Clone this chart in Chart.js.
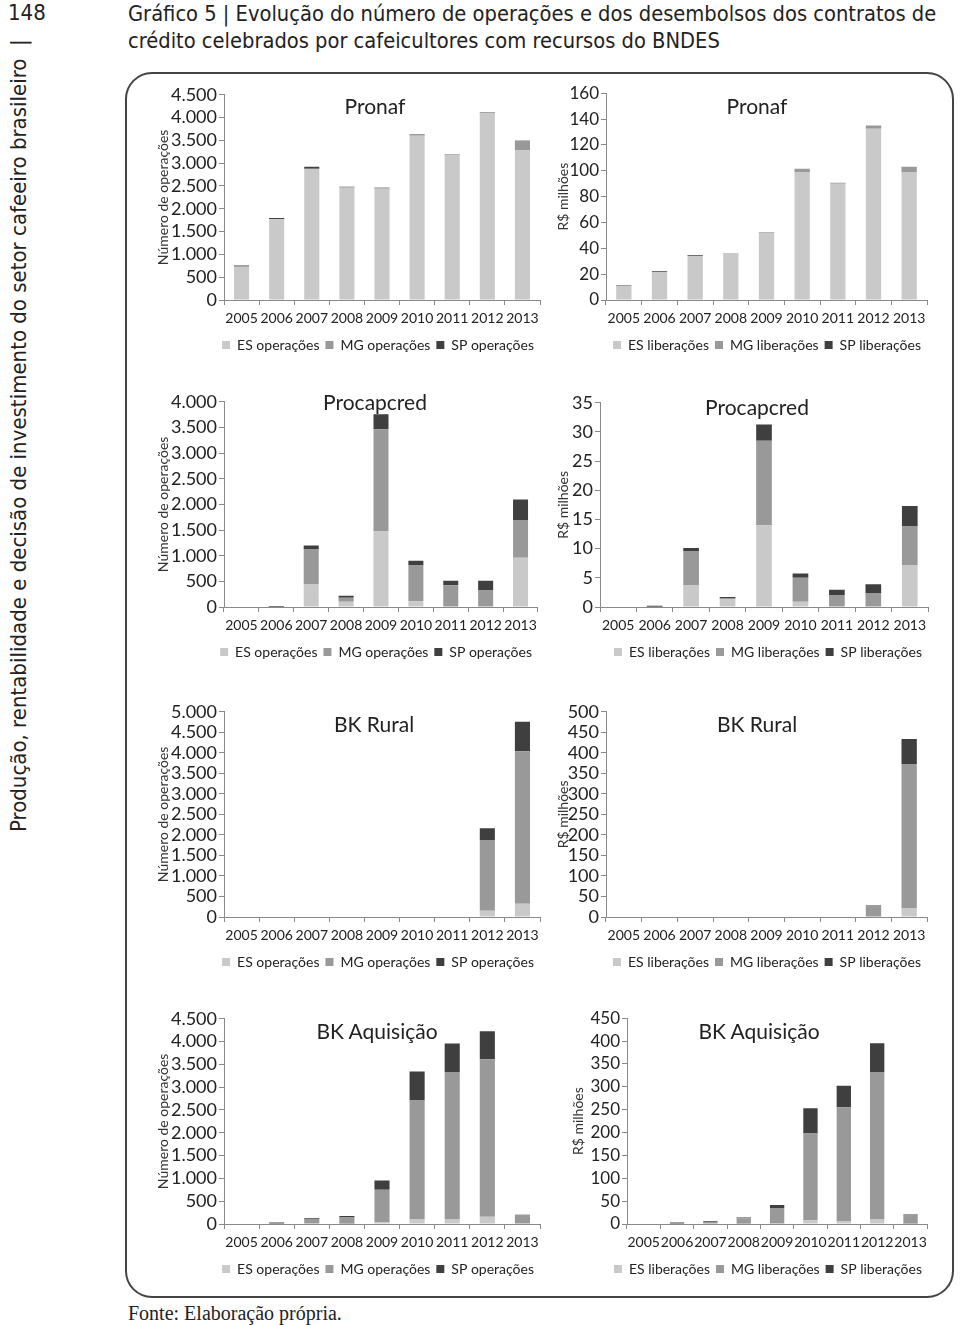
<!DOCTYPE html>
<html>
<head>
<meta charset="utf-8">
<script src="https://cdn.jsdelivr.net/npm/chart.js@4.4.1/dist/chart.umd.min.js"></script>
<style>
html,body{margin:0;padding:0;background:#fff;}
body{width:960px;height:1325px;position:relative;overflow:hidden;font-family:Lato,sans-serif;color:#222;}
.abs{position:absolute;}
.narrow{font-family:"Liberation Sans Narrow","DejaVu Sans Condensed",sans-serif;}
#pagenum{left:8px;top:0px;font-size:22px;line-height:26px;}
#side{left:7px;top:832px;transform:rotate(-90deg);transform-origin:0 0;white-space:nowrap;font-size:22px;line-height:24px;}
#title{left:128px;top:0px;font-size:21.7px;line-height:27px;white-space:nowrap;}
#frame{left:125px;top:72px;width:829px;height:1226px;border:2px solid #444;border-radius:27px;box-sizing:border-box;}
.ctitle{font-family:Lato,sans-serif;font-size:21px;transform:translate(-50%,-50%);white-space:nowrap;color:#222;z-index:5;}
#fonte{left:128px;top:1301px;font-family:"Liberation Serif","Times New Roman",serif;font-size:20px;line-height:24px;}
canvas{position:absolute;}
</style>
</head>
<body>
<div id="pagenum" class="abs narrow">148</div>
<div id="side" class="abs narrow">Produção, rentabilidade e decisão de investimento do setor cafeeiro brasileiro&nbsp;&nbsp;|</div>
<div id="title" class="abs narrow">Gráfico 5 | Evolução do número de operações e dos desembolsos dos contratos de<br>crédito celebrados por cafeicultores com recursos do BNDES</div>
<div id="frame" class="abs"></div>
<div id="fonte" class="abs">Fonte: Elaboração própria.</div>

<script>
// ---------- DATA ----------
const years = ['2005','2006','2007','2008','2009','2010','2011','2012','2013'];

// Pronaf – número de operações
const pronafOpsES = [730, 1770, 2860, 2460, 2440, 3600, 3170, 4090, 3280];
const pronafOpsMG = [5, 5, 20, 20, 20, 30, 20, 30, 210];
const pronafOpsSP = [20, 25, 40, 5, 5, 10, 5, 5, 10];
// Pronaf – liberações (R$ milhões)
const pronafLibES = [10.8, 21.5, 34, 36, 52, 99, 90, 132.5, 99];
const pronafLibMG = [0, 0, 0, 0.4, 0.6, 2.5, 0.7, 2.5, 4];
const pronafLibSP = [0.5, 0.7, 0.7, 0, 0, 0, 0, 0, 0];

// Procapcred – número de operações
const procapOpsES = [0, 0, 440, 100, 1470, 110, 0, 0, 960];
const procapOpsMG = [0, 5, 680, 80, 1995, 700, 425, 320, 735];
const procapOpsSP = [0, 15, 80, 40, 290, 90, 85, 190, 400];
// Procapcred – liberações
const procapLibES = [0, 0, 3.7, 1.3, 14, 0.9, 0, 0, 7.2];
const procapLibMG = [0, 0.05, 5.9, 0.25, 14.5, 4.1, 2.05, 2.4, 6.6];
const procapLibSP = [0, 0.15, 0.5, 0.15, 2.8, 0.75, 0.9, 1.5, 3.5];

// BK Rural – número de operações
const bkRuralOpsES = [0, 0, 0, 0, 0, 0, 0, 150, 320];
const bkRuralOpsMG = [0, 0, 0, 0, 0, 0, 0, 1725, 3720];
const bkRuralOpsSP = [0, 0, 0, 0, 0, 0, 0, 285, 715];
// BK Rural – liberações
const bkRuralLibES = [0, 0, 0, 0, 0, 0, 0, 1, 21];
const bkRuralLibMG = [0, 0, 0, 0, 0, 0, 0, 24.5, 352];
const bkRuralLibSP = [0, 0, 0, 0, 0, 0, 0, 2.5, 61];

// BK Aquisição – número de operações
const bkAqOpsES = [0, 0, 10, 5, 35, 110, 110, 160, 0];
const bkAqOpsMG = [0, 10, 90, 140, 715, 2600, 3210, 3455, 185];
const bkAqOpsSP = [0, 25, 25, 30, 205, 635, 640, 610, 20];
// BK Aquisição – liberações
const bkAqLibES = [0, 0, 0, 0.5, 1, 8, 5.5, 11, 0.5];
const bkAqLibMG = [0, 1, 4.5, 12, 34, 190, 250, 320, 18];
const bkAqLibSP = [0, 2.5, 1.5, 1.5, 6.5, 55, 47, 64, 2];

const opsLabels = ['ES operações', 'MG operações', 'SP operações'];
const libLabels = ['ES liberações', 'MG liberações', 'SP liberações'];
const opsAxisTitle = 'Número de operações';
const libAxisTitle = 'R$ milhões';

// ---------- STYLE ----------
const COL = { es: '#c9c9c9', mg: '#999999', sp: '#3f3f3f' };
const AXIS = '#8a8a8a';
const TXT = '#222222';

function fmt(v) { return String(v).replace(/\B(?=(\d{3})+(?!\d))/g, '.'); }

const panels = [
  { title:'Pronaf', s:[pronafOpsES,pronafOpsMG,pronafOpsSP], labels:opsLabels, yt:opsAxisTitle, max:4500, step:500,
    pl:224, pr:540, pt:94, pb:298, yW:80, titleX:163, tx:375, ty:105, fs:18 },
  { title:'Pronaf', s:[pronafLibES,pronafLibMG,pronafLibSP], labels:libLabels, yt:libAxisTitle, max:160, step:20,
    pl:606, pr:927, pt:93, pb:298, yW:60, titleX:563, tx:757, ty:105, fs:17 },
  { title:'Procapcred', s:[procapOpsES,procapOpsMG,procapOpsSP], labels:opsLabels, yt:opsAxisTitle, max:4000, step:500,
    pl:224, pr:538, pt:401, pb:605, yW:80, titleX:163, tx:375, ty:401, fs:18 },
  { title:'Procapcred', s:[procapLibES,procapLibMG,procapLibSP], labels:libLabels, yt:libAxisTitle, max:35, step:5,
    pl:600, pr:928, pt:402, pb:605, yW:60, titleX:563, tx:757, ty:406, fs:18 },
  { title:'BK Rural', s:[bkRuralOpsES,bkRuralOpsMG,bkRuralOpsSP], labels:opsLabels, yt:opsAxisTitle, max:5000, step:500,
    pl:224, pr:540, pt:711, pb:915, yW:80, titleX:163, tx:374, ty:723, fs:18 },
  { title:'BK Rural', s:[bkRuralLibES,bkRuralLibMG,bkRuralLibSP], labels:libLabels, yt:libAxisTitle, max:500, step:50,
    pl:606, pr:927, pt:711, pb:915, yW:60, titleX:563, tx:757, ty:723, fs:18 },
  { title:'BK Aquisição', s:[bkAqOpsES,bkAqOpsMG,bkAqOpsSP], labels:opsLabels, yt:opsAxisTitle, max:4500, step:500,
    pl:224, pr:540, pt:1018, pb:1222, yW:80, titleX:163, tx:377, ty:1030, fs:18 },
  { title:'BK Aquisição', s:[bkAqLibES,bkAqLibMG,bkAqLibSP], labels:libLabels, yt:libAxisTitle, max:450, step:50,
    pl:627, pr:928, pt:1018, pb:1222, yW:60, titleX:578, tx:759, ty:1030, fs:17 }
];

const PAD_TOP = 12, PAD_R = 4, XAX_H = 32, LEG_PAD = 6, LEG_FS = 14;

panels.forEach((p, i) => {
  const cLeft = p.pl - p.yW;
  const cTop = p.pt - PAD_TOP;
  const w = p.pr + PAD_R - cLeft;
  const h = PAD_TOP + (p.pb - p.pt) + XAX_H + (LEG_FS + LEG_PAD + 10) + 2;
  const cv = document.createElement('canvas');
  cv.width = w; cv.height = h;
  cv.style.left = cLeft + 'px'; cv.style.top = cTop + 'px';
  cv.style.width = w + 'px'; cv.style.height = h + 'px';
  document.body.appendChild(cv);

  const t = document.createElement('div');
  t.className = 'abs ctitle';
  t.style.left = p.tx + 'px'; t.style.top = p.ty + 'px';
  t.textContent = p.title;
  document.body.appendChild(t);

  const colors = [COL.es, COL.mg, COL.sp];
  const titlePad = p.titleX - cLeft - 8.4;

  new Chart(cv.getContext('2d'), {
    type: 'bar',
    data: {
      labels: years,
      datasets: p.s.map((arr, k) => ({
        label: p.labels[k], data: arr, backgroundColor: colors[k],
        borderWidth: 0, barPercentage: 0.43, categoryPercentage: 1.0
      }))
    },
    options: {
      responsive: false, animation: false,
      layout: { padding: { top: PAD_TOP, right: PAD_R, left: 0, bottom: 0 } },
      plugins: {
        legend: { position: 'bottom', align: 'end',
          labels: { boxWidth: 8, boxHeight: 8, padding: LEG_PAD, color: TXT,
            font: { family: 'Lato', size: LEG_FS } } },
        tooltip: { enabled: false },
        title: { display: false }
      },
      scales: {
        x: {
          stacked: true,
          grid: { display: true, drawOnChartArea: false, drawTicks: true, tickLength: 5, color: AXIS, offset: true },
          border: { display: true, color: AXIS, width: 1 },
          ticks: { autoSkip: false, maxRotation: 0, minRotation: 0, padding: 5, color: TXT,
            font: { family: 'Lato', size: 14 } },
          afterFit(s) { s.height = XAX_H; }
        },
        y: {
          stacked: true, min: 0, max: p.max,
          grid: { display: true, drawOnChartArea: false, drawTicks: true, tickLength: 5, color: AXIS },
          border: { display: true, color: AXIS, width: 1 },
          ticks: { stepSize: p.step, autoSkip: false, padding: 2, color: TXT,
            font: { family: 'Lato', size: p.fs }, callback: v => fmt(v) },
          title: { display: true, text: p.yt, color: '#333', padding: { top: titlePad, bottom: 0 },
            font: { family: 'Lato', size: 14 } },
          afterFit(s) { s.width = p.yW; }
        }
      }
    }
  });
});
</script>
</body>
</html>
